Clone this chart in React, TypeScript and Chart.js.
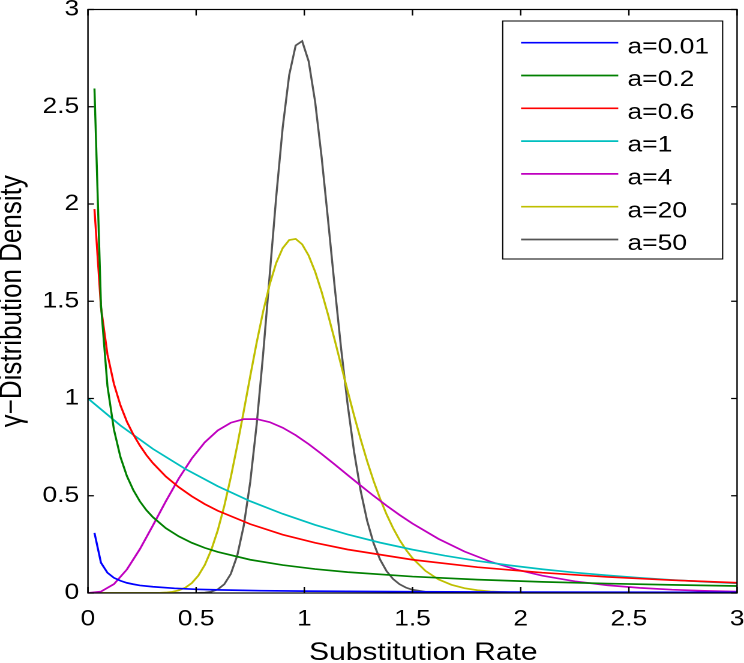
import { useEffect, useRef } from "react";
import { Chart, registerables } from "chart.js";

Chart.register(...registerables);

// ---------- data ----------
const seriesLabels = ["a=0.01", "a=0.2", "a=0.6", "a=1", "a=4", "a=20", "a=50"];

const xA001 = [0.03, 0.06, 0.09, 0.12, 0.15, 0.18, 0.21, 0.24, 0.3, 0.4, 0.5, 0.6, 0.8, 1.0, 1.5, 2.0, 2.5, 3.0];
const yA001 = [0.309, 0.156, 0.104, 0.078, 0.063, 0.052, 0.045, 0.039, 0.032, 0.024, 0.019, 0.016, 0.012, 0.0095, 0.0063, 0.0047, 0.0038, 0.0031];

const xA02 = [0.03, 0.06, 0.09, 0.12, 0.15, 0.18, 0.21, 0.24, 0.27, 0.3, 0.36, 0.42, 0.48, 0.54, 0.6, 0.75, 0.9, 1.05, 1.2, 1.5, 1.8, 2.1, 2.4, 2.7, 3.0];
const yA02 = [2.594, 1.481, 1.064, 0.84, 0.699, 0.601, 0.528, 0.471, 0.426, 0.39, 0.333, 0.291, 0.258, 0.232, 0.211, 0.171, 0.1435, 0.123, 0.1074, 0.0846, 0.0689, 0.0573, 0.0485, 0.0416, 0.036];

const xA06 = [0.03, 0.06, 0.09, 0.12, 0.15, 0.18, 0.21, 0.24, 0.27, 0.3, 0.36, 0.42, 0.48, 0.54, 0.6, 0.75, 0.9, 1.05, 1.2, 1.5, 1.8, 2.1, 2.4, 2.7, 3.0];
const yA06 = [1.974, 1.47, 1.227, 1.075, 0.965, 0.881, 0.814, 0.758, 0.709, 0.668, 0.599, 0.544, 0.497, 0.457, 0.423, 0.354, 0.3, 0.258, 0.2236, 0.171, 0.1328, 0.1043, 0.0826, 0.0658, 0.0526];

const xA1 = [0, 0.15, 0.3, 0.45, 0.6, 0.75, 0.9, 1.05, 1.2, 1.35, 1.5, 1.65, 1.8, 1.95, 2.1, 2.25, 2.4, 2.55, 2.7, 2.85, 3.0];
const yA1 = [1.0, 0.861, 0.741, 0.638, 0.549, 0.472, 0.407, 0.35, 0.301, 0.259, 0.223, 0.192, 0.165, 0.142, 0.122, 0.105, 0.0907, 0.0781, 0.0672, 0.0578, 0.0498];

const xA4 = [0, 0.06, 0.12, 0.18, 0.24, 0.3, 0.36, 0.42, 0.48, 0.54, 0.6, 0.66, 0.72, 0.78, 0.84, 0.9, 0.96, 1.02, 1.08, 1.14, 1.2, 1.26, 1.32, 1.38, 1.44, 1.5, 1.62, 1.74, 1.86, 1.98, 2.1, 2.25, 2.4, 2.55, 2.7, 2.85, 3.0];
const yA4 = [0, 0.0073, 0.0456, 0.1211, 0.2259, 0.347, 0.4716, 0.5892, 0.6918, 0.7747, 0.836, 0.8753, 0.8939, 0.8941, 0.8785, 0.8498, 0.8113, 0.7656, 0.7149, 0.6613, 0.6068, 0.5525, 0.4997, 0.4492, 0.4014, 0.357, 0.2783, 0.2134, 0.1613, 0.1204, 0.0889, 0.06, 0.0399, 0.0263, 0.0171, 0.0111, 0.0071];

const xA20 = [0, 0.3, 0.33, 0.36, 0.39, 0.42, 0.45, 0.48, 0.51, 0.54, 0.57, 0.6, 0.63, 0.66, 0.69, 0.72, 0.75, 0.78, 0.81, 0.84, 0.87, 0.9, 0.93, 0.96, 0.99, 1.02, 1.05, 1.08, 1.11, 1.14, 1.17, 1.2, 1.23, 1.26, 1.29, 1.32, 1.35, 1.38, 1.41, 1.44, 1.47, 1.5, 1.56, 1.62, 1.68, 1.74, 1.8, 1.86, 1.95, 2.1, 2.4, 3.0];
const yA20 = [0, 0.0002, 0.0008, 0.0024, 0.006, 0.0135, 0.0274, 0.0513, 0.089, 0.1447, 0.2219, 0.3227, 0.4475, 0.5945, 0.7592, 0.9353, 1.1148, 1.289, 1.4492, 1.5873, 1.6968, 1.7733, 1.8147, 1.8205, 1.7927, 1.7349, 1.6515, 1.548, 1.4298, 1.3024, 1.1709, 1.0396, 0.9121, 0.7912, 0.679, 0.5768, 0.4851, 0.4043, 0.3338, 0.2733, 0.222, 0.1788, 0.1135, 0.07, 0.0421, 0.0247, 0.0142, 0.008, 0.0032, 0.0007, 0, 0];

const xA50 = [0, 0.45, 0.48, 0.51, 0.54, 0.57, 0.6, 0.63, 0.66, 0.69, 0.72, 0.75, 0.78, 0.81, 0.84, 0.87, 0.9, 0.93, 0.96, 0.99, 1.02, 1.05, 1.08, 1.11, 1.14, 1.17, 1.2, 1.23, 1.26, 1.29, 1.32, 1.35, 1.38, 1.41, 1.44, 1.47, 1.5, 1.56, 1.62, 1.68, 1.8, 3.0];
const yA50 = [0, 0, 0.0001, 0.0006, 0.0021, 0.0067, 0.0184, 0.0449, 0.0978, 0.1927, 0.346, 0.5707, 0.87, 1.2338, 1.6357, 2.0372, 2.3934, 2.6629, 2.8154, 2.8375, 2.734, 2.5247, 2.24, 1.9138, 1.5774, 1.2568, 0.9697, 0.7255, 0.5272, 0.3726, 0.2565, 0.1721, 0.1128, 0.0722, 0.0452, 0.0277, 0.0166, 0.0057, 0.0018, 0.0005, 0, 0];

const seriesX = [xA001, xA02, xA06, xA1, xA4, xA20, xA50];
const seriesY = [yA001, yA02, yA06, yA1, yA4, yA20, yA50];

const axisMin = 0;
const axisMax = 3;
const tickStep = 0.5;
const xTitle = "Substitution Rate";
const yTitle = "\u03b3\u2212Distribution Density";

// ---------- styles ----------
const lineColors = ["#0000ff", "#008000", "#ff0000", "#00bfbf", "#bf00bf", "#bfbf00", "#555555"];
const FONT = "'Liberation Sans', Arial, Helvetica, sans-serif";
const STRETCH = 1.2;
const W = 620;
const H = 663;
const LINE_W = 1.7;

const fmtTick = (v: any) => String(Number(Number(v).toFixed(2)));

const framePlugin = {
  id: "matlabFrame",
  afterDatasetsDraw(chart: any) {
    const { ctx, chartArea } = chart;
    const { left, right, top, bottom } = chartArea;
    const xs = chart.scales.x;
    const ys = chart.scales.y;
    ctx.save();
    ctx.strokeStyle = "#000";
    ctx.lineWidth = 1.2;
    ctx.strokeRect(left, top, right - left, bottom - top);
    ctx.beginPath();
    const tlx = 6;
    const tly = 5;
    xs.ticks.forEach((t: any) => {
      const px = xs.getPixelForValue(t.value);
      ctx.moveTo(px, bottom);
      ctx.lineTo(px, bottom - tlx);
      ctx.moveTo(px, top);
      ctx.lineTo(px, top + tlx);
    });
    ys.ticks.forEach((t: any) => {
      const py = ys.getPixelForValue(t.value);
      ctx.moveTo(left, py);
      ctx.lineTo(left + tly, py);
      ctx.moveTo(right, py);
      ctx.lineTo(right - tly, py);
    });
    ctx.stroke();

    // x axis title
    ctx.fillStyle = "#000";
    ctx.font = `25px ${FONT}`;
    ctx.textAlign = "center";
    ctx.textBaseline = "alphabetic";
    ctx.fillText(xTitle, (left + right) / 2 + 9, 660);

    // legend
    const lgRight = right - 12;
    const lgW = 183.3;
    const lgLeft = lgRight - lgW;
    const lgTop = top + 11.5;
    const lgH = 238;
    ctx.fillStyle = "#fff";
    ctx.fillRect(lgLeft, lgTop, lgW, lgH);
    ctx.lineWidth = 1;
    ctx.strokeStyle = "#000";
    ctx.strokeRect(lgLeft, lgTop, lgW, lgH);
    ctx.font = `22px ${FONT}`;
    ctx.textAlign = "left";
    ctx.textBaseline = "alphabetic";
    chart.data.datasets.forEach((ds: any, i: number) => {
      const cy = lgTop + 21.7 + i * 32.8;
      ctx.strokeStyle = ds.borderColor;
      ctx.lineWidth = LINE_W;
      ctx.beginPath();
      ctx.moveTo(lgLeft + 15.3, cy);
      ctx.lineTo(lgLeft + 96.3, cy);
      ctx.stroke();
      ctx.fillStyle = "#000";
      ctx.fillText(ds.label, lgLeft + 104, cy + 10.6);
    });
    ctx.restore();
  },
};

export default function App() {
  const ref = useRef<HTMLCanvasElement | null>(null);

  useEffect(() => {
    if (!ref.current) return;
    const datasets = seriesLabels.map((label, i) => ({
      label,
      data: seriesX[i].map((x, j) => ({ x, y: seriesY[i][j] })),
      borderColor: lineColors[i],
      backgroundColor: lineColors[i],
      borderWidth: LINE_W,
      pointRadius: 0,
      tension: 0,
      fill: false,
    }));
    const chart = new Chart(ref.current, {
      type: "line",
      data: { datasets },
      plugins: [framePlugin],
      options: {
        responsive: false,
        animation: false,
        devicePixelRatio: 2,
        parsing: false,
        normalized: true,
        layout: { padding: { top: 9.5, right: 5.8, left: 0, bottom: 0 } },
        plugins: {
          legend: { display: false },
          tooltip: { enabled: false },
        },
        scales: {
          x: {
            type: "linear",
            min: axisMin,
            max: axisMax,
            ticks: {
              stepSize: tickStep,
              padding: 13,
              color: "#000",
              font: { family: FONT, size: 22 },
              maxRotation: 0,
              autoSkip: false,
              callback: fmtTick,
            },
            grid: { display: false, drawTicks: false },
            border: { display: false },
            title: { display: false },
            afterFit: (s: any) => {
              s.height = 70;
              s.paddingLeft = 0;
              s.paddingRight = 0;
            },
          },
          y: {
            type: "linear",
            min: axisMin,
            max: axisMax,
            ticks: {
              stepSize: tickStep,
              padding: 7.3,
              color: "#000",
              font: { family: FONT, size: 22 },
              autoSkip: false,
              callback: fmtTick,
            },
            grid: { display: false, drawTicks: false },
            border: { display: false },
            title: {
              display: true,
              text: yTitle,
              color: "#000",
              font: { family: FONT, size: 26, lineHeight: 1 },
              padding: { top: -2.5, bottom: 0 },
            },
            afterFit: (s: any) => {
              s.width = 73.3;
              s.paddingTop = 0;
              s.paddingBottom = 0;
            },
          },
        },
      } as any,
    });
    return () => chart.destroy();
  }, []);

  return (
    <div style={{ position: "absolute", left: 0, top: 0, width: 744, height: 663, overflow: "hidden", background: "#fff" }}>
      <div style={{ width: W, height: H, transform: `scaleX(${STRETCH})`, transformOrigin: "0 0" }}>
        <canvas ref={ref} width={W} height={H} style={{ display: "block", width: W, height: H }} />
      </div>
    </div>
  );
}
